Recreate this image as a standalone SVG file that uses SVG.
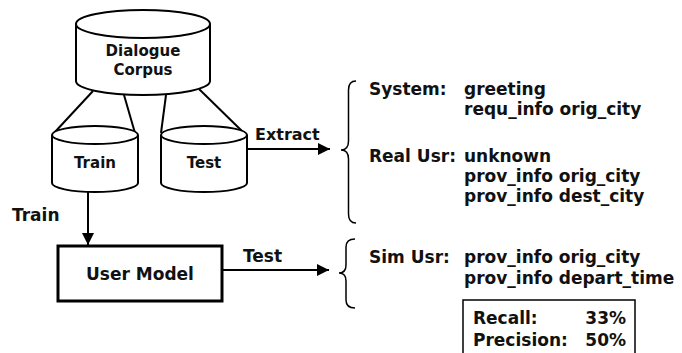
<svg xmlns="http://www.w3.org/2000/svg" width="682" height="353" viewBox="0 0 682 353">
  <style>
    .shape { fill: #ffffff; stroke: #000000; stroke-width: 2; }
    .edge { fill: none; stroke: #000000; stroke-width: 2; }
    .brace { fill: none; stroke: #000000; stroke-width: 1.5; }
    text { font-family: "DejaVu Sans", "Liberation Sans", sans-serif; font-weight: bold; fill: #111111; }
    .lbl15 { font-size: 15px; }
    .lbl16 { font-size: 16px; }
    .lbl17 { font-size: 17px; }
    .mid { text-anchor: middle; }
    .end { text-anchor: end; }
  </style>
  <defs>
    <marker id="arrow" viewBox="0 0 12 12" refX="12" refY="6" markerWidth="12" markerHeight="12" markerUnits="userSpaceOnUse" orient="auto">
      <path d="M0,0 L12,6 L0,12 Z" fill="#000000"/>
    </marker>
  </defs>

  <!-- links from the corpus to its two splits, and the flow arrows -->
  <g id="connectors">
    <line class="edge" x1="93" y1="91" x2="54" y2="133"/>
    <line class="edge" x1="124" y1="95" x2="135" y2="133"/>
    <line class="edge" x1="166" y1="95" x2="161" y2="133"/>
    <line class="edge" x1="199" y1="89" x2="244" y2="133"/>
    <line class="edge" x1="247" y1="149" x2="330" y2="149" marker-end="url(#arrow)"/>
    <line class="edge" x1="88" y1="192" x2="88" y2="245" marker-end="url(#arrow)"/>
    <line class="edge" x1="222" y1="270" x2="329" y2="270" marker-end="url(#arrow)"/>
    <text class="lbl16" x="255" y="140">Extract</text>
    <text class="lbl17" x="12" y="221">Train</text>
    <text class="lbl17" x="243" y="262">Test</text>
  </g>

  <g id="corpus">
    <path class="shape" d="M76,24 L76,81 A67,14 0 0 0 210,81 L210,24"/>
    <ellipse class="shape" cx="143" cy="24" rx="67" ry="14"/>
    <text class="lbl15 mid" x="143" y="56">Dialogue</text>
    <text class="lbl15 mid" x="143" y="75">Corpus</text>
  </g>

  <g id="train">
    <path class="shape" d="M52,135 L52,183 A43,9 0 0 0 138,183 L138,135"/>
    <ellipse class="shape" cx="95" cy="135" rx="43" ry="9"/>
    <text class="lbl15 mid" x="95" y="168">Train</text>
  </g>

  <g id="test">
    <path class="shape" d="M161,135 L161,183 A43,9 0 0 0 247,183 L247,135"/>
    <ellipse class="shape" cx="204" cy="135" rx="43" ry="9"/>
    <text class="lbl15 mid" x="204" y="168">Test</text>
  </g>

  <g id="user-model">
    <rect x="58" y="246" width="164" height="55" fill="#ffffff" stroke="#000000" stroke-width="3"/>
    <text class="lbl17 mid" x="140" y="280">User Model</text>
  </g>

  <g id="extracted-acts">
    <path class="brace" d="M356,81 Q348.5,81 348.5,90 L348.5,141 Q348.5,150 341,150 Q348.5,150 348.5,159 L348.5,214 Q348.5,223 356,223"/>
    <text class="lbl17" x="369" y="95">System:</text>
    <text class="lbl17" x="464" y="95">greeting</text>
    <text class="lbl17" x="464" y="115">requ_info orig_city</text>
    <text class="lbl17" x="369" y="162">Real Usr:</text>
    <text class="lbl17" x="464" y="162">unknown</text>
    <text class="lbl17" x="464" y="182">prov_info orig_city</text>
    <text class="lbl17" x="464" y="202">prov_info dest_city</text>
  </g>

  <g id="simulated-acts">
    <path class="brace" d="M355,239 Q346,239 346,247 L346,265 Q346,273 339,273 Q346,273 346,281 L346,300 Q346,308 355,308"/>
    <text class="lbl17" x="369" y="263">Sim Usr:</text>
    <text class="lbl17" x="464" y="263">prov_info orig_city</text>
    <text class="lbl17" x="464" y="284">prov_info depart_time</text>
  </g>

  <g id="scores">
    <rect x="463" y="300" width="172" height="60" fill="#ffffff" stroke="#000000" stroke-width="1.5"/>
    <text class="lbl17" x="473" y="324">Recall:</text>
    <text class="lbl17 end" x="626" y="324">33%</text>
    <text class="lbl17" x="473" y="346">Precision:</text>
    <text class="lbl17 end" x="626" y="346">50%</text>
  </g>
</svg>
